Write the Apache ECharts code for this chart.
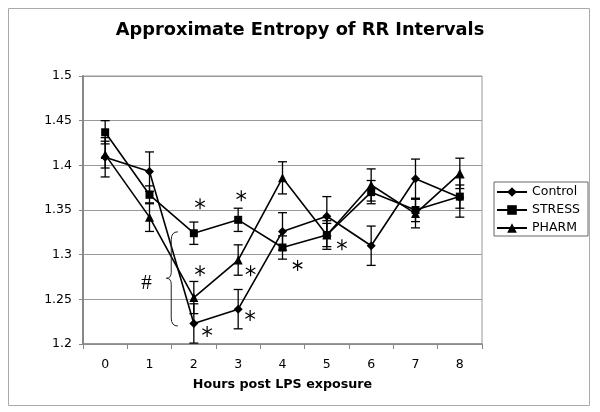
<!DOCTYPE html>
<html><head><meta charset="utf-8">
<script src="https://cdn.jsdelivr.net/npm/echarts@6/dist/echarts.min.js"></script>
<style>html,body{margin:0;padding:0;background:#fff}#c{width:600px;height:412px}</style>
</head><body><div id="c"></div>
<script>
// ---- data ----
const hours = ['0', '1', '2', '3', '4', '5', '6', '7', '8'];
const control    = [1.409, 1.393, 1.223, 1.239, 1.326, 1.343, 1.310, 1.385, 1.364];
const controlErr = [0.022, 0.022, 0.022, 0.022, 0.021, 0.022, 0.022, 0.022, 0.022];
const stress     = [1.437, 1.367, 1.324, 1.339, 1.308, 1.322, 1.370, 1.350, 1.365];
const stressErr  = [0.013, 0.010, 0.0125, 0.013, 0.013, 0.013, 0.013, 0.013, 0.013];
const pharm      = [1.412, 1.342, 1.252, 1.294, 1.386, 1.322, 1.378, 1.346, 1.391];
const pharmErr   = [0.015, 0.016, 0.018, 0.017, 0.018, 0.016, 0.018, 0.016, 0.017];
const yMin = 1.2, yMax = 1.5, yStep = 0.05;
// significance marks (in data units: hour, value)
const asterisks = [[2.14, 1.357], [3.07, 1.366], [2.14, 1.282], [3.28, 1.282],
                   [2.30, 1.214], [3.27, 1.232], [4.34, 1.288], [5.34, 1.311]];
const hashMark = [0.93, 1.268];
const brace = { x: 1.49, tip: 1.38, curl: 1.64, top: 1.3256, mid: 1.2736, bottom: 1.2201 };

const FONT = 'DejaVu Sans';
const chart = echarts.init(document.getElementById('c'), null, { renderer: 'canvas' });

function errorBars(vals, errs) {
  return {
    type: 'custom', xAxisIndex: 0, yAxisIndex: 0, silent: true, z: 1,
    data: vals.map((v, i) => [i, v - errs[i], v + errs[i]]),
    renderItem(params, api) {
      const lo = api.coord([api.value(0), api.value(1)]);
      const hi = api.coord([api.value(0), api.value(2)]);
      const w = 4.5;
      const style = { stroke: '#000', lineWidth: 1.3, fill: null };
      return { type: 'group', children: [
        { type: 'line', shape: { x1: lo[0], y1: lo[1], x2: hi[0], y2: hi[1] }, style },
        { type: 'line', shape: { x1: lo[0] - w, y1: lo[1], x2: lo[0] + w, y2: lo[1] }, style },
        { type: 'line', shape: { x1: hi[0] - w, y1: hi[1], x2: hi[0] + w, y2: hi[1] }, style }
      ]};
    }
  };
}

function lineSeries(name, vals, symbol, size) {
  return {
    name, type: 'line', data: vals, symbol, symbolSize: size, z: 3,
    lineStyle: { color: '#000', width: 1.6 },
    itemStyle: { color: '#000' }
  };
}

const option = {
  animation: false,
  backgroundColor: '#fff',
  title: {
    text: 'Approximate Entropy of RR Intervals',
    left: 'center', top: 21, padding: 0,
    textStyle: { fontFamily: FONT, fontWeight: 'bold', fontSize: 17.8, color: '#000' }
  },
  legend: {
    orient: 'vertical', left: 494, top: 182,
    data: ['Control', 'STRESS', 'PHARM'],
    borderColor: '#666', borderWidth: 1, padding: [3, 8, 1, 2],
    itemGap: 4, itemWidth: 30, itemHeight: 12,
    textStyle: { fontFamily: FONT, fontSize: 12.5, color: '#000', lineHeight: 14 }
  },
  grid: { left: 83, right: 118, top: 76, bottom: 68, show: true, borderColor: '#999', borderWidth: 1 },
  xAxis: [{
    type: 'category', data: hours, boundaryGap: true,
    name: 'Hours post LPS exposure', nameLocation: 'middle', nameGap: 34,
    nameTextStyle: { fontFamily: FONT, fontWeight: 'bold', fontSize: 12.7, color: '#000' },
    axisLine: { lineStyle: { color: '#888', width: 1.5 } },
    axisTick: { show: true, length: 5, alignWithLabel: false, lineStyle: { color: '#888' } },
    axisLabel: { fontFamily: FONT, fontSize: 12.5, color: '#000', margin: 14 },
    splitLine: { show: false }
  }, {
    type: 'value', min: -0.5, max: 8.5, show: false
  }],
  yAxis: {
    type: 'value', min: yMin, max: yMax, interval: yStep,
    axisLine: { show: true, onZero: false, lineStyle: { color: '#888', width: 2 } },
    axisTick: { show: true, length: 4, lineStyle: { color: '#888' } },
    axisLabel: { fontFamily: FONT, fontSize: 12.5, color: '#000', margin: 11 },
    splitLine: { lineStyle: { color: '#999', width: 1 } }
  },
  graphic: [{
    type: 'rect', shape: { x: 8.5, y: 8.5, width: 581, height: 397 },
    style: { fill: null, stroke: '#aaa', lineWidth: 1 }, silent: true, z: -1
  }],
  series: [
    errorBars(control, controlErr),
    errorBars(stress, stressErr),
    errorBars(pharm, pharmErr),
    lineSeries('Control', control, 'diamond', 9),
    lineSeries('STRESS', stress, 'rect', 8),
    lineSeries('PHARM', pharm, 'triangle', 9),
    {
      type: 'custom', xAxisIndex: 1, yAxisIndex: 0, silent: true, z: 4, clip: false,
      data: asterisks,
      renderItem(params, api) {
        const c = api.coord([api.value(0), api.value(1)]);
        const r = 5.5;
        const style = { stroke: '#000', lineWidth: 1.2, fill: null };
        const kids = [];
        [90, 30, 150].forEach(a => {
          const rad = a * Math.PI / 180;
          const dx = r * Math.cos(rad), dy = r * Math.sin(rad);
          kids.push({ type: 'line', shape: { x1: c[0] - dx, y1: c[1] - dy, x2: c[0] + dx, y2: c[1] + dy }, style });
        });
        return { type: 'group', children: kids };
      }
    },
    {
      type: 'custom', xAxisIndex: 1, yAxisIndex: 0, silent: true, z: 4, clip: false,
      data: [hashMark],
      renderItem(params, api) {
        const c = api.coord([api.value(0), api.value(1)]);
        return { type: 'text', x: c[0], y: c[1],
          style: { text: '#', fontFamily: 'Liberation Serif', fontSize: 21, fill: '#000',
                   align: 'center', verticalAlign: 'middle' } };
      }
    },
    {
      type: 'custom', xAxisIndex: 1, yAxisIndex: 0, silent: true, z: 4, clip: false,
      data: [[brace.x, brace.mid]],
      renderItem(params, api) {
        const t = api.coord([brace.curl, brace.top]);
        const m = api.coord([brace.x, brace.mid]);
        const b = api.coord([brace.curl, brace.bottom]);
        const tip = api.coord([brace.tip, brace.mid]);
        const x = m[0], cx = t[0];
        const d = `M${cx},${t[1]} Q${x},${t[1]} ${x},${t[1] + 8} L${x},${m[1] - 6} Q${x},${m[1]} ${tip[0]},${m[1]} ` +
                  `Q${x},${m[1]} ${x},${m[1] + 6} L${x},${b[1] - 8} Q${x},${b[1]} ${cx},${b[1]}`;
        return { type: 'path', shape: { pathData: d },
          style: { stroke: '#222', lineWidth: 1, fill: null } };
      }
    }
  ]
};
chart.setOption(option);
</script></body></html>
